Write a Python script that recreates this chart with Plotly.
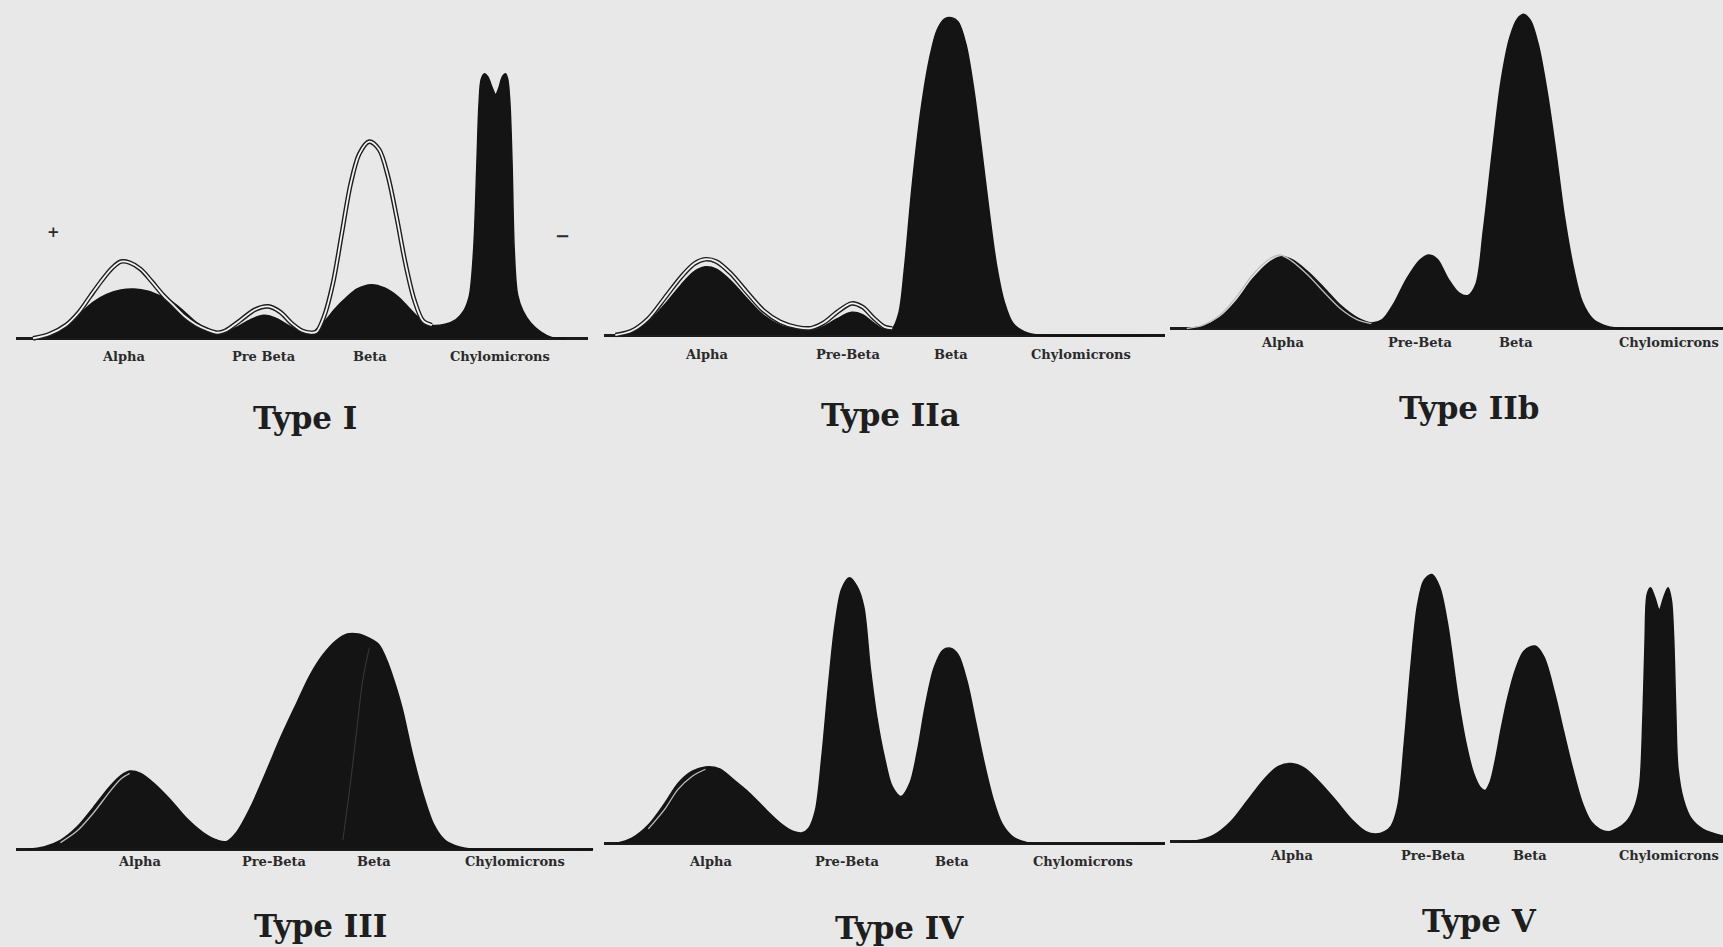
import plotly.graph_objects as go

# ---------------- data (mobility 0..~100, relative density 0..~100) ----------------
PANEL_TITLES = ["Type I", "Type IIa", "Type IIb", "Type III", "Type IV", "Type V"]
FRACTIONS_TYPE_I = ["Alpha", "Pre Beta", "Beta", "Chylomicrons"]
FRACTIONS = ["Alpha", "Pre-Beta", "Beta", "Chylomicrons"]

# patient densitometer traces (mobility, density)
TYPE_I_TRACE = [(3,0),(6,1.3),(9,4),(11.4,7.3),(14,11),(16.4,13.3),(19,14.7),(21.4,15),(24,14.3),
    (26.4,12.7),(28.4,11),(30.4,8.3),(32.6,5),(34.6,3),(36.6,2),(38,2),(40,3.3),(42.6,5.7),(45,7),
    (47.4,6),(49.4,4),(51.4,2.3),(53,1.7),(54,2),(56,5),(58,9),(60,12.3),(62,15),(64.6,16.3),
    (67,15.3),(69.4,12.7),(71.4,9.3),(73.4,6),(75.6,4),(78,4.3),(80,5.7),(81.4,8.3),(82.4,12.7),
    (83.2,26.7),(83.8,53.3),(84.2,71.7),(84.6,78.7),(85.2,80.3),(85.8,79.3),(86.6,76),(87.2,74),
    (87.8,76),(88.4,79.3),(89,80.3),(89.4,78.7),(89.8,71.7),(90.2,53.3),(90.6,26.7),(91.2,13.3),
    (92.2,8.3),(93.6,4.7),(95.4,2),(97.4,0.3),(100,0)]
TYPE_IIA_TRACE = [(2,0),(5,1),(8,4),(11,9.3),(14,15.3),(16.4,19.3),(18.4,20.7),(20.4,20),(23,16.5),
    (26,11),(29,6),(32,3),(35,1.7),(37.6,1.3),(40,2.7),(42.4,5),(45,6.9),(47,6.2),(49,3.7),(51,1.7),
    (52.4,2),(53.6,6.7),(54.6,20),(56,45),(57.6,68),(59.2,84),(60.6,92.7),(62,96),(63.2,96.3),
    (64.4,95),(65.8,88.3),(67.2,75),(68.6,57),(70,38),(71.4,21),(72.8,10),(74.4,3.5),(76.4,1),
    (79,0),(102,0)]
TYPE_IIB_TRACE = [(3,0),(6,0.7),(9,3.3),(12,8.3),(15,15),(18,20),(20,21.7),(22,21),(25,17.3),
    (28,12.3),(31,7),(34,3.3),(36.6,1.7),(38.6,2.7),(40.6,7.3),(43,15),(45.4,20.7),(47,22.3),
    (48.6,21),(50.6,15),(52.6,10.7),(54.2,10),(55.6,13.3),(57,30),(58.6,53.3),(60.2,75),
    (61.8,88.3),(63.2,94),(64.4,95.3),(65.6,93.3),(67,86),(68.6,71.7),(70.2,53.3),(71.8,33.3),
    (73.4,18.3),(75,8),(77,2.7),(79.4,0.7),(82,0),(100.6,0)]
TYPE_III_TRACE = [(2,0),(5,0.7),(8,2.7),(11,6.7),(14,12.7),(17,19),(19,22.3),(20.6,23.7),(22.6,23),
    (25,20),(28,15),(31,9.3),(34,5),(36.6,2.7),(38.2,2.3),(40,5),(42.6,12.7),(45.4,23.3),
    (48.2,34.3),(51,44.3),(53.4,52.7),(55.8,59),(58.2,63.3),(60.2,65.3),(62.2,65.3),(64.2,64),
    (66,62),(67.4,57.3),(68.6,51.7),(70.2,42.7),(72,29.3),(74,16.7),(76,7.3),(78,2.7),(80.6,0.7),
    (83,0),(105,0)]
TYPE_IV_TRACE = [(2,0),(5,1.7),(8,5.7),(11,12.3),(13.4,18.3),(16,22),(18.4,23.3),(21,22.7),
    (23.6,19.3),(26,16),(28,12.7),(30,9.3),(32.4,5.7),(34.4,3.7),(36,3.3),(37.2,4.7),(38.4,10),
    (39.6,26.7),(40.8,48.3),(42,66.7),(43.2,77.3),(44.6,80.7),(46,78),(47.2,72),(48.4,53.3),
    (49.6,38.3),(51,26),(52.4,17.3),(54,14.3),(55.6,18.3),(57,28.3),(58.4,41.7),(60,53.3),
    (61.6,58.7),(63,59.3),(64.4,57.3),(66,49.3),(67.6,36.7),(69.2,24),(70.8,13.3),(72.4,6),
    (74.4,2),(77,0.3),(80,0),(102,0)]
TYPE_V_TRACE = [(2,0),(5,0.3),(8,2),(11,6),(14,12.3),(17,18.7),(19.6,22.7),(22,23.7),(24.4,22.3),
    (27,18.3),(30,12.7),(33,6.7),(35.6,3),(37.4,2.3),(39,3),(40.2,4.7),(41.4,10.7),(42.6,30),
    (43.8,53.3),(45,71.7),(46.2,79.3),(47.6,81),(49,77.3),(50.4,66.7),(52.4,43.3),(53.8,30),
    (55.2,20.7),(56.4,16.5),(57.3,15.5),(58.2,18),(59.2,25),(60.2,34),(61.4,43.5),(62.8,52),
    (64.4,57.8),(66.4,59.3),(68,56),(70,44.7),(71.6,33.3),(73.2,22.3),(75,11.7),(76.6,6),(78.2,3.7),
    (79.8,3),(81.4,4),(83,6),(84.4,10),(85.4,16.7),(86,36.7),(86.4,60),(86.8,75),(87.4,77),
    (88.2,74),(89,70.3),(89.8,74),(90.6,77),(91.2,73.3),(91.6,62.7),(92,40),(92.4,22.3),
    (93.4,12.7),(94.8,7),(97,3.7),(100.6,1.7)]

# normal reference patterns drawn as outlines (mobility, density)
TYPE_I_NORMAL = [(3,0),(6,1.3),(9,4),(11.4,8),(13.4,12.7),(15.4,17.3),(17.4,21.3),(19,23.3),
    (20.6,23),(22.6,21),(24.6,17.3),(26.6,13.3),(28.6,10),(30.6,6.7),(32.6,4.3),(34.6,2.7),
    (36.6,1.7),(38,2.3),(40.6,5.3),(43.4,8.7),(45.8,9.7),(48,8),(50,4.7),(52,2.3),(53.6,1.7),
    (54.6,2),(56,6.7),(57.6,16.7),(59.2,31.7),(60.8,46.7),(62.4,56),(64.2,59.7),(66,57.3),
    (67.6,49.3),(69.2,36.7),(70.8,22.7),(72.4,11.7),(74,5.3),(75.6,4)]
TYPE_IIA_NORMAL = [(2,0),(5,1.3),(8,5),(11,11.3),(14,17.7),(16.4,21.7),(18.4,23),(20.4,22.3),
    (23,18.7),(26,12.9),(29,7.4),(32,4),(35,2.4),(37.6,2.1),(40,3.8),(42.4,7),(45,9.6),(47,8.5),
    (49,5.2),(51,2.5),(52.4,2)]
TYPE_IIB_NORMAL = [(3,0),(6,1),(9,4),(12,9.5),(15,16.3),(18,21),(20,22.3),(22,20.6),(25,16.3),
    (28,11),(31,6),(34,2.7),(36.6,1.5)]
TYPE_III_NORMAL = [(8,2),(11,5.5),(14,11),(17,17.5),(19,21.3),(20.6,23)]
TYPE_III_NORMAL_BETA = [(64.2,61),(63,51),(61.8,34.3),(60.6,17.7),(59.4,2.7)]
TYPE_IV_NORMAL = [(8,4.5),(11,10.5),(13.4,16.5),(16,20.5),(18.4,22.6)]

# ---------------- layout (reference drawn at 1568 x 862) ----------------
W, H = 1568.0, 862.0
UX, UY = 5.0, 3.0          # px per mobility unit / density unit
Y_LO, Y_HI = -28, 99
BG = "#e7e8e7"
INK = "#141414"
FONT = "DejaVu Serif"

panels = [
    dict(trace=TYPE_I_TRACE, outline=[TYPE_I_NORMAL], inner=[], x0=15, span=104, base=308,
         names=FRACTIONS_TYPE_I, lab=[19.5, 45.1, 64.3, 88.0], lab_y=-5.5, tx=52.6, ty=-24.3, lastright=False),
    dict(trace=TYPE_IIA_TRACE, outline=[TYPE_IIA_NORMAL], inner=[], x0=550, span=102, base=305,
         names=FRACTIONS, lab=[18.6, 44.4, 63.0, 86.8], lab_y=-6, tx=52.0, ty=-24.2, lastright=False),
    dict(trace=TYPE_IIB_TRACE, outline=[], inner=[TYPE_IIB_NORMAL], x0=1065, span=100.6, base=299,
         names=FRACTIONS, lab=[20.6, 45.6, 63.0, 100.2], lab_y=-4.3, tx=54.4, ty=-24.2, lastright=True),
    dict(trace=TYPE_III_TRACE, outline=[], inner=[TYPE_III_NORMAL], faint=[TYPE_III_NORMAL_BETA],
         x0=15, span=105, base=773,
         names=FRACTIONS, lab=[22.4, 47.0, 65.0, 90.8], lab_y=-3.7, tx=55.4, ty=-23.3, lastright=False),
    dict(trace=TYPE_IV_TRACE, outline=[], inner=[TYPE_IV_NORMAL], x0=550, span=102, base=768,
         names=FRACTIONS, lab=[19.4, 44.2, 63.2, 87.2], lab_y=-5.3, tx=53.8, ty=-25.5, lastright=False),
    dict(trace=TYPE_V_TRACE, outline=[], inner=[], x0=1065, span=100.6, base=766,
         names=FRACTIONS, lab=[22.2, 48.0, 65.4, 100.2], lab_y=-4.3, tx=56.2, ty=-24.2, lastright=True),
]

fig = go.Figure()
annotations = []
layout_axes = {}

for i, p in enumerate(panels, start=1):
    xa = "x" if i == 1 else f"x{i}"
    ya = "y" if i == 1 else f"y{i}"
    xs = [a for a, b in p["trace"]]
    ys = [b for a, b in p["trace"]]
    fig.add_trace(go.Scatter(x=xs, y=ys, xaxis=xa, yaxis=ya, mode="lines",
                             line=dict(color=INK, width=1.5, shape="spline", smoothing=0.9),
                             fill="tozeroy", fillcolor=INK, hoverinfo="skip", showlegend=False))
    for o in p["outline"]:
        ox = [a for a, b in o]; oy = [b for a, b in o]
        fig.add_trace(go.Scatter(x=ox, y=oy, xaxis=xa, yaxis=ya, mode="lines",
                                 line=dict(color="#1e1e1e", width=4.6, shape="spline", smoothing=0.9),
                                 hoverinfo="skip", showlegend=False))
        fig.add_trace(go.Scatter(x=ox, y=oy, xaxis=xa, yaxis=ya, mode="lines",
                                 line=dict(color="#f2f2f2", width=1.8, shape="spline", smoothing=0.9),
                                 hoverinfo="skip", showlegend=False))
    for o in p["inner"]:
        ox = [a for a, b in o]; oy = [b for a, b in o]
        fig.add_trace(go.Scatter(x=ox, y=oy, xaxis=xa, yaxis=ya, mode="lines",
                                 line=dict(color="#bdbdbd", width=1.3, shape="spline", smoothing=0.9),
                                 hoverinfo="skip", showlegend=False))
    for o in p.get("faint", []):
        ox = [a for a, b in o]; oy = [b for a, b in o]
        fig.add_trace(go.Scatter(x=ox, y=oy, xaxis=xa, yaxis=ya, mode="lines",
                                 line=dict(color="#363636", width=1.1, shape="spline", smoothing=0.9),
                                 hoverinfo="skip", showlegend=False))

    x_lo = p["x0"] / W
    x_hi = min(1.0, (p["x0"] + p["span"] * UX) / W)
    y_lo = max(0.0, 1 - (p["base"] - Y_LO * UY) / H)
    y_hi = min(1.0, 1 - (p["base"] - Y_HI * UY) / H)
    key_x = "xaxis" if i == 1 else f"xaxis{i}"
    key_y = "yaxis" if i == 1 else f"yaxis{i}"
    layout_axes[key_x] = dict(domain=[x_lo, x_hi], range=[0, p["span"]], visible=False,
                              anchor=ya, fixedrange=True)
    layout_axes[key_y] = dict(domain=[y_lo, y_hi], range=[Y_LO, Y_HI], showgrid=False,
                              showticklabels=False, showline=False, ticks="",
                              zeroline=True, zerolinecolor="#1c1c1c", zerolinewidth=2.6,
                              anchor=xa, fixedrange=True)

    for j, (name, lx) in enumerate(zip(p["names"], p["lab"])):
        right = p["lastright"] and j == 3
        annotations.append(dict(x=lx, y=p["lab_y"], xref=xa, yref=ya, text=name, showarrow=False,
                                xanchor="right" if right else "center", yanchor="middle",
                                font=dict(family=FONT, size=13, color="#2a2a2a", weight="bold")))
    annotations.append(dict(x=p["tx"], y=p["ty"], xref=xa, yref=ya, text=PANEL_TITLES[i - 1],
                            showarrow=False, xanchor="center", yanchor="middle",
                            font=dict(family=FONT, size=31, color="#1e1e1e", weight="bold")))

# electrode polarity marks on the Type I strip
annotations.append(dict(x=6.8, y=32.3, xref="x", yref="y", text="+", showarrow=False,
                        font=dict(family=FONT, size=15, color="#2a2a2a", weight="bold")))
annotations.append(dict(x=99.4, y=31.3, xref="x", yref="y", text="−", showarrow=False,
                        font=dict(family=FONT, size=18, color="#2a2a2a", weight="bold")))

fig.update_layout(width=1723, height=947, margin=dict(l=0, r=0, t=0, b=0),
                  paper_bgcolor=BG, plot_bgcolor=BG, showlegend=False,
                  annotations=annotations, **layout_axes)

fig.write_html("out.html", config={"displayModeBar": False},
               post_script="document.body.style.margin='0';document.body.style.overflow='hidden';")
